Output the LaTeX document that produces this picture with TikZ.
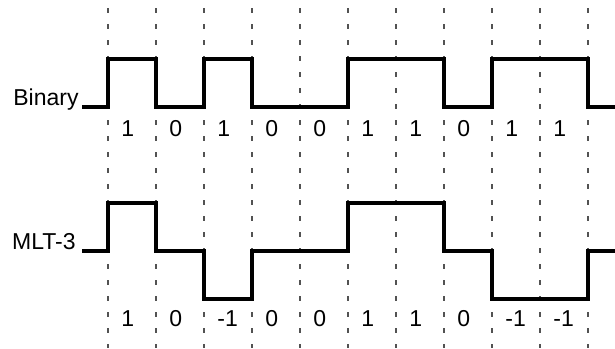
\documentclass[tikz,border=0pt]{standalone}
\usepackage{fontspec}
\setmainfont{Liberation Sans}
\usepackage{tikz}
\usepackage{xcolor}
\usetikzlibrary{positioning, calc}
\tikzstyle{gridline} = [draw=black!68, line width=0.9pt, dash pattern=on 2.5pt off 5.5pt]
\tikzstyle{signal} = [draw=black, line width=1.6pt, line join=miter]
\tikzstyle{tag} = [anchor=base east, inner sep=0pt, font=\fontsize{11.5}{13}\selectfont]
\tikzstyle{bit} = [anchor=base west, inner sep=0pt, font=\fontsize{11.5}{13}\selectfont]

\begin{document}
\begin{tikzpicture}[x=0.5pt, y=-0.5pt]
    \useasboundingbox (0,0) rectangle (615,348);

    % bit boundaries
    \draw [gridline] (108,8) -- (108,348);
    \draw [gridline] (156,8) -- (156,348);
    \draw [gridline] (204,8) -- (204,348);
    \draw [gridline] (252,8) -- (252,348);
    \draw [gridline] (300,8) -- (300,348);
    \draw [gridline] (348,8) -- (348,348);
    \draw [gridline] (396,8) -- (396,348);
    \draw [gridline] (444,8) -- (444,348);
    \draw [gridline] (492,8) -- (492,348);
    \draw [gridline] (540,8) -- (540,348);
    \draw [gridline] (588,8) -- (588,348);

    % binary signal
    \node (binary) [tag] at (79,105) {Binary};
    \draw [signal] (82,107) -| (108,59) -| (156,107) -| (204,59) -| (252,107)
        -| (348,59) -| (444,107) -| (492,59) -| (588,107) -- (615,107);
    \node (b1) [bit] at (121,136) {1};
    \node (b2) [bit] at (169,136) {0};
    \node (b3) [bit] at (217,136) {1};
    \node (b4) [bit] at (265,136) {0};
    \node (b5) [bit] at (313,136) {0};
    \node (b6) [bit] at (361,136) {1};
    \node (b7) [bit] at (409,136) {1};
    \node (b8) [bit] at (457,136) {0};
    \node (b9) [bit] at (505,136) {1};
    \node (b10) [bit] at (553,136) {1};

    % MLT-3 signal
    \node (mlt) [tag] at (76,249) {MLT-3};
    \draw [signal] (82,251) -| (108,203) -| (156,251) -| (204,299) -| (252,251)
        -| (348,203) -| (444,251) -| (492,299) -| (588,251) -- (615,251);
    \node (m1) [bit] at (121,326) {1};
    \node (m2) [bit] at (169,326) {0};
    \node (m3) [bit] at (217,326) {-1};
    \node (m4) [bit] at (265,326) {0};
    \node (m5) [bit] at (313,326) {0};
    \node (m6) [bit] at (361,326) {1};
    \node (m7) [bit] at (409,326) {1};
    \node (m8) [bit] at (457,326) {0};
    \node (m9) [bit] at (505,326) {-1};
    \node (m10) [bit] at (553,326) {-1};
\end{tikzpicture}
\end{document}
